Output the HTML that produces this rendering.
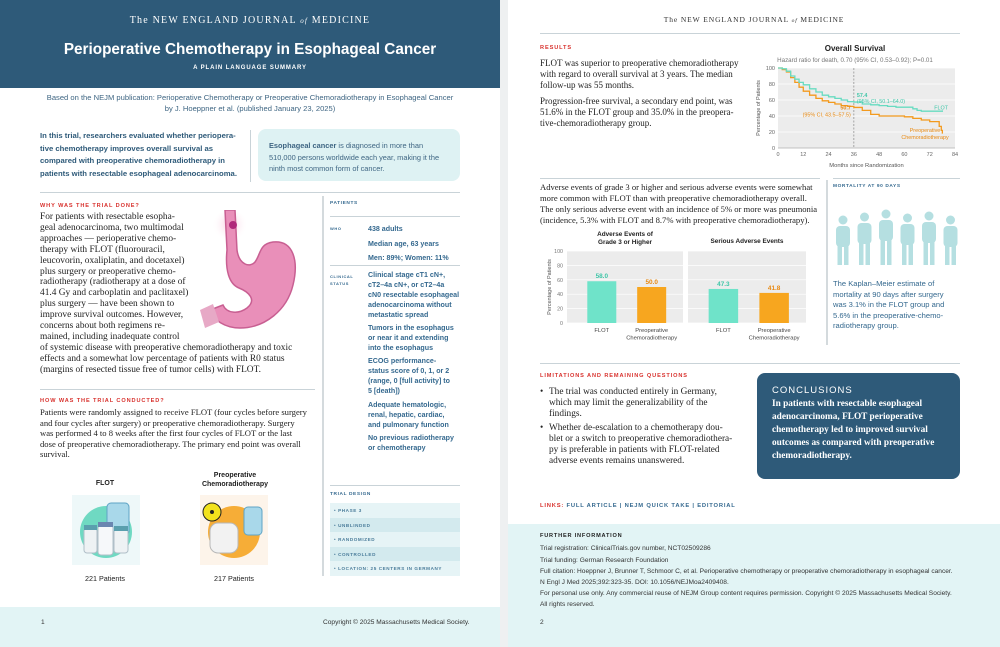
<!DOCTYPE html>
<html><head><meta charset="utf-8"><style>
*{margin:0;padding:0;box-sizing:border-box}
body{width:1000px;height:647px;position:relative;background:#eef0f1;overflow:hidden;font-family:"Liberation Sans",sans-serif}
.page{position:absolute;top:0;height:647px;background:#fff;overflow:hidden}
.a{position:absolute;white-space:nowrap}
.serif{font-family:"Liberation Serif",serif;font-size:8.6px;color:#222;line-height:10.9px}
.red{color:#d8322e;font-weight:bold;font-size:5.6px;letter-spacing:.9px}
.sb{font-weight:bold;font-size:7.1px;color:#35698f;line-height:10px}
.lab{font-size:4.8px;color:#35698f;letter-spacing:.6px;font-weight:bold}
.td{position:absolute;left:330px;width:130px;height:14.5px;font-size:4.6px;color:#4a7c9a;letter-spacing:.6px;font-weight:bold;padding:5px 0 0 4px}
.hl{position:absolute;height:1px;background:#c9d3d8}
.foot{font-size:6.6px;color:#333;line-height:10.5px}
</style></head><body>
<div class="page" style="left:0;width:500px">
 <div class="a" style="left:0;top:0;width:500px;height:88px;background:#2e5a79"></div>
 <div class="a" style="left:0;width:500px;top:15px;text-align:center;color:#fff;font-family:'Liberation Serif',serif;font-size:10px;letter-spacing:1.2px">The NEW ENGLAND JOURNAL <i style="font-size:7px">of</i> MEDICINE</div>
 <div class="a" style="left:0;width:500px;top:41px;text-align:center;color:#fff;font-size:15.3px;font-weight:bold">Perioperative Chemotherapy in Esophageal Cancer</div>
 <div class="a" style="left:0;width:500px;top:65px;text-align:center;color:#fff;font-size:6px;font-weight:bold;letter-spacing:.9px">A PLAIN LANGUAGE SUMMARY</div>
 <div class="a" style="left:0;width:500px;top:92px;text-align:center;color:#3f6683;font-size:7.6px;line-height:11px">Based on the NEJM publication: Perioperative Chemotherapy or Preoperative Chemoradiotherapy in Esophageal Cancer<br>by J. Hoeppner et al. (published January 23, 2025)</div>
 <div class="a" style="left:40px;top:130px;color:#2e5a79;font-weight:bold;font-size:7.7px;line-height:12.5px">In this trial, researchers evaluated whether periopera-<br>tive chemotherapy improves overall survival as<br>compared with preoperative chemoradiotherapy in<br>patients with resectable esophageal adenocarcinoma.</div>
 <div class="a" style="left:250px;top:130px;width:1px;height:52px;background:#c9d3d8"></div>
 <div class="a" style="left:258px;top:129px;width:202px;height:52px;background:#def2f3;border-radius:8px;padding:11px 0 0 11px;color:#3f6683;font-size:7.4px;line-height:11.5px"><b>Esophageal cancer</b> is diagnosed in more than<br>510,000 persons worldwide each year, making it the<br>ninth most common form of cancer.</div>
 <div class="hl" style="left:40px;top:192px;width:420px"></div>
 <div class="a red" style="left:40px;top:203px">WHY WAS THE TRIAL DONE?</div>
 <div class="a serif" style="left:40px;top:212px;font-size:9.4px">For patients with resectable esopha-<br>geal adenocarcinoma, two multimodal<br>approaches — perioperative chemo-<br>therapy with FLOT (fluorouracil,<br>leucovorin, oxaliplatin, and docetaxel)<br>plus surgery or preoperative chemo-<br>radiotherapy (radiotherapy at a dose of<br>41.4 Gy and carboplatin and paclitaxel)<br>plus surgery — have been shown to<br>improve survival outcomes. However,<br>concerns about both regimens re-<br>mained, including inadequate control<br>of systemic disease with preoperative chemoradiotherapy and toxic<br>effects and a somewhat low percentage of patients with R0 status<br>(margins of resected tissue free of tumor cells) with FLOT.</div>
 <svg class="a" style="left:195px;top:210px" width="120" height="135" viewBox="0 0 120 135">
  <defs><radialGradient id="g1" cx="50%" cy="40%" r="50%"><stop offset="0" stop-color="#f7a8c9" stop-opacity=".6"/><stop offset="1" stop-color="#fff" stop-opacity="0"/></radialGradient></defs>
  <circle cx="35" cy="18" r="18" fill="url(#g1)"/>
  <path d="M30 0 L40 0 L42 40 C44 55 55 58 60 52 C66 44 64 34 78 32 C98 30 104 50 98 75 C92 100 70 118 45 118 C30 118 18 110 15 100 L28 95 C32 104 44 104 52 98 C62 90 54 82 44 78 C34 74 30 60 32 40 Z" fill="#e98fb9" stroke="#c85f92" stroke-width="1.5"/>
  <path d="M5 100 L18 94 L24 112 L10 118 Z" fill="#e7a9c6"/>
  <circle cx="38" cy="15" r="4" fill="#b0287a"/>
 </svg>
 <div class="hl" style="left:40px;top:389px;width:275px"></div>
 <div class="a red" style="left:40px;top:398px">HOW WAS THE TRIAL CONDUCTED?</div>
 <div class="a serif" style="left:40px;top:407px;line-height:10.5px">Patients were randomly assigned to receive FLOT (four cycles before surgery<br>and four cycles after surgery) or preoperative chemoradiotherapy. Surgery<br>was performed 4 to 8 weeks after the first four cycles of FLOT or the last<br>dose of preoperative chemoradiotherapy. The primary end point was overall<br>survival.</div>
 <div class="a" style="left:75px;width:60px;top:480px;text-align:center;font-size:7px;font-weight:bold;color:#222">FLOT</div>
 <svg class="a" style="left:72px;top:495px" width="68" height="70">
  <rect x="0" y="0" width="68" height="70" fill="#eef8f9"/>
  <circle cx="34" cy="37" r="26" fill="#6fd9c2"/>
  <rect x="35" y="8" width="22" height="32" rx="4" fill="#a9d8ea" stroke="#5fa4c5"/>
  <rect x="12" y="33" width="13" height="25" rx="3" fill="#eef2f4" stroke="#b0bfc8"/>
  <rect x="26" y="30" width="15" height="30" rx="3" fill="#f6f8fa" stroke="#b0bfc8"/>
  <rect x="42" y="34" width="14" height="24" rx="3" fill="#eef2f4" stroke="#b0bfc8"/>
  <rect x="12" y="30" width="13" height="5" fill="#5a9fae"/><rect x="26" y="27" width="15" height="5" fill="#6b86b0"/><rect x="42" y="31" width="14" height="5" fill="#5a9fae"/>
 </svg>
 <div class="a" style="left:75px;width:60px;top:574px;text-align:center;font-size:7.2px;color:#222">221 Patients</div>
 <div class="a" style="left:195px;width:80px;top:471px;text-align:center;font-size:7px;font-weight:bold;color:#222;line-height:9px">Preoperative<br>Chemoradiotherapy</div>
 <svg class="a" style="left:200px;top:495px" width="68" height="70">
  <rect x="0" y="0" width="68" height="70" fill="#fdf4ea"/>
  <circle cx="34" cy="37" r="26" fill="#f6ad37"/>
  <rect x="10" y="28" width="28" height="30" rx="8" fill="#f2f2f2" stroke="#b8b8b8"/>
  <rect x="44" y="12" width="18" height="28" rx="4" fill="#a9d8ea" stroke="#5fa4c5"/>
  <circle cx="12" cy="17" r="9" fill="#f2e21c" stroke="#222"/>
  <circle cx="12" cy="17" r="2" fill="#222"/>
 </svg>
 <div class="a" style="left:200px;width:68px;top:574px;text-align:center;font-size:7.2px;color:#222">217 Patients</div>
 <div class="a" style="left:322px;top:196px;width:1.5px;height:380px;background:#d4dadd"></div>
 <div class="a lab" style="left:330px;top:201px;color:#35698f">PATIENTS</div>
 <div class="hl" style="left:330px;top:216px;width:130px"></div>
 <div class="a lab" style="left:330px;top:226px;font-size:4px">WHO</div>
 <div class="a sb" style="left:368px;top:222px;line-height:14.5px">438 adults<br>Median age, 63 years<br>Men: 89%; Women: 11%</div>
 <div class="hl" style="left:330px;top:265px;width:130px"></div>
 <div class="a lab" style="left:330px;top:273px;font-size:4px;line-height:7px">CLINICAL<br>STATUS</div>
 <div class="a sb" style="left:368px;top:270px">Clinical stage cT1 cN+,<br>cT2–4a cN+, or cT2–4a<br>cN0 resectable esophageal<br>adenocarcinoma without<br>metastatic spread</div>
 <div class="a sb" style="left:368px;top:323px">Tumors in the esophagus<br>or near it and extending<br>into the esophagus</div>
 <div class="a sb" style="left:368px;top:356px">ECOG performance-<br>status score of 0, 1, or 2<br>(range, 0 [full activity] to<br>5 [death])</div>
 <div class="a sb" style="left:368px;top:400px">Adequate hematologic,<br>renal, hepatic, cardiac,<br>and pulmonary function</div>
 <div class="a sb" style="left:368px;top:433px">No previous radiotherapy<br>or chemotherapy</div>
 <div class="hl" style="left:330px;top:485px;width:130px"></div>
 <div class="a lab" style="left:330px;top:492px">TRIAL DESIGN</div>
 <div class="td" style="top:503px;background:#e6f4f6">• PHASE 3</div>
 <div class="td" style="top:517.5px;background:#d3eaee">• UNBLINDED</div>
 <div class="td" style="top:532px;background:#e6f4f6">• RANDOMIZED</div>
 <div class="td" style="top:546.5px;background:#d3eaee">• CONTROLLED</div>
 <div class="td" style="top:561px;background:#e6f4f6">• LOCATION: 25 CENTERS IN GERMANY</div>
 <div class="a" style="left:0;top:607px;width:500px;height:40px;background:#e2f4f5"></div>
 <div class="a foot" style="left:41px;top:618px">1</div>
 <div class="a foot" style="left:323px;top:618px">Copyright © 2025 Massachusetts Medical Society.</div>
</div>

<div class="page" style="left:508px;width:492px">
 <div class="a" style="left:0;width:492px;top:15px;text-align:center;color:#333;font-family:'Liberation Serif',serif;font-size:7.5px;letter-spacing:.9px">The NEW ENGLAND JOURNAL <i style="font-size:5.5px">of</i> MEDICINE</div>
 <div class="hl" style="left:32px;top:33px;width:420px"></div>
 <div class="a red" style="left:32px;top:45px">RESULTS</div>
 <div class="a serif" style="left:32px;top:58px;font-size:9px">FLOT was superior to preoperative chemoradiotherapy<br>with regard to overall survival at 3 years. The median<br>follow-up was 55 months.</div>
 <div class="a serif" style="left:32px;top:96px;font-size:9px">Progression-free survival, a secondary end point, was<br>51.6% in the FLOT group and 35.0% in the preopera-<br>tive-chemoradiotherapy group.</div>
 <div class="hl" style="left:32px;top:178px;width:280px"></div>
 <div class="a serif" style="left:32px;top:182px">Adverse events of grade 3 or higher and serious adverse events were somewhat<br>more common with FLOT than with preoperative chemoradiotherapy overall.<br>The only serious adverse event with an incidence of 5% or more was pneumonia<br>(incidence, 5.3% with FLOT and 8.7% with preoperative chemoradiotherapy).</div>
 <div class="a" style="left:318px;top:180px;width:1.5px;height:165px;background:#d4dadd"></div>
 <div class="hl" style="left:325px;top:178px;width:127px"></div>
 <div class="a lab" style="left:325px;top:184px">MORTALITY AT 90 DAYS</div>
 <svg class="a" style="left:325px;top:207px" width="127" height="60" id="people"></svg>
 <div class="a" style="left:325px;top:279px;font-size:7.6px;line-height:10.5px;color:#35698f">The Kaplan–Meier estimate of<br>mortality at 90 days after surgery<br>was 3.1% in the FLOT group and<br>5.6% in the preoperative-chemo-<br>radiotherapy group.</div>
 <div class="hl" style="left:32px;top:363px;width:420px"></div>
 <div class="a red" style="left:32px;top:373px">LIMITATIONS AND REMAINING QUESTIONS</div>
 <div class="a serif" style="left:32px;top:387px;font-size:9.3px"><span style="position:absolute;left:0">•</span><div style="margin-left:9px">The trial was conducted entirely in Germany,<br>which may limit the generalizability of the<br>findings.</div></div>
 <div class="a serif" style="left:32px;top:423px;font-size:9.3px"><span style="position:absolute;left:0">•</span><div style="margin-left:9px">Whether de-escalation to a chemotherapy dou-<br>blet or a switch to preoperative chemoradiothera-<br>py is preferable in patients with FLOT-related<br>adverse events remains unanswered.</div></div>
 <div class="a" style="left:249px;top:373px;width:203px;height:106px;background:#2e5a79;border-radius:8px;padding:12px 0 0 15px;color:#fff">
  <div style="font-size:9.5px;letter-spacing:1px;margin-bottom:2px">CONCLUSIONS</div>
  <div style="font-family:'Liberation Serif',serif;font-weight:bold;font-size:9.3px;line-height:13px">In patients with resectable esophageal<br>adenocarcinoma, FLOT perioperative<br>chemotherapy led to improved survival<br>outcomes as compared with preoperative<br>chemoradiotherapy.</div>
 </div>
 <div class="a" style="left:32px;top:503px;font-size:5.8px;font-weight:bold;letter-spacing:.8px;color:#35698f"><span style="color:#d8322e">LINKS:</span> <span>FULL ARTICLE</span> | <span>NEJM QUICK TAKE</span> | <span>EDITORIAL</span></div>
 <div class="a" style="left:0;top:524px;width:492px;height:123px;background:#e2f4f5"></div>
 <div class="a" style="left:32px;top:533px;font-size:5.6px;font-weight:bold;letter-spacing:.8px;color:#222">FURTHER INFORMATION</div>
 <div class="a foot" style="left:32px;top:544px">Trial registration: ClinicalTrials.gov number, NCT02509286<br><span style="display:block;height:1px"></span>Trial funding: German Research Foundation<br><span style="display:block;height:1px"></span>Full citation: Hoeppner J, Brunner T, Schmoor C, et al. Perioperative chemotherapy or preoperative chemoradiotherapy in esophageal cancer.<br>N Engl J Med 2025;392:323-35. DOI: 10.1056/NEJMoa2409408.<br><span style="display:block;height:1px"></span>For personal use only. Any commercial reuse of NEJM Group content requires permission. Copyright © 2025 Massachusetts Medical Society.<br>All rights reserved.</div>
 <div class="a foot" style="left:32px;top:618px">2</div>
</div>

<svg class="a" id="os" style="left:745px;top:40px" width="220" height="135"></svg>
<svg class="a" id="ae" style="left:515px;top:225px" width="300" height="125"></svg>

<script>
// ---- Overall survival data ----
const osMonths = [0,2,4,6,8,10,12,15,18,21,24,27,30,33,36,40,44,48,52,56,60,64,66,68,72,76,78];
const flotSurv = [100,99,96,90,86,82,79,74,70,66,64,62,60,58,57.4,55,54,53,52,51,51,49,47,46,46,46,47];
const crtMonths = [0,2,4,6,8,10,12,15,18,21,24,27,30,33,36,40,44,48,52,56,60,64,68,72,76,76.5,77.5,78];
const crtSurv = [100,98,95,88,82,76,71,66,62,59,57,55,53,52,50.7,47,42,40,40,40,39,37,35,33,33,27,22,18];
const osXTicks = [0,12,24,36,48,60,72,84];
const osYTicks = [0,20,40,60,80,100];
// ---- Adverse events data ----
const aeCategories = ["FLOT","Preoperative Chemoradiotherapy"];
const aeGrade3 = [58.0,50.0];
const aeSerious = [47.3,41.8];
const aeYTicks = [0,20,40,60,80,100];

const NS='http://www.w3.org/2000/svg';
function mk(p,t,a,txt){const e=document.createElementNS(NS,t);for(const k in a)e.setAttribute(k,a[k]);if(txt!==undefined)e.textContent=txt;p.appendChild(e);return e;}
const F='Liberation Sans, sans-serif';
(function(){
 const s=document.getElementById('os');
 const x0=33,x1=210,y0=108,y1=28;
 const X=m=>x0+(m/84)*(x1-x0), Y=v=>y0-(v/100)*(y0-y1);
 let t=mk(s,'text',{x:110,y:11,'text-anchor':'middle','font-size':'8px','font-weight':'bold','font-family':F,fill:'#222'},'Overall Survival');
 
 t=mk(s,'text',{x:110,y:22,'text-anchor':'middle','font-size':'6.2px','font-family':F,fill:'#777'},'Hazard ratio for death, 0.70 (95% CI, 0.53–0.92); P=0.01');
 
 let r=mk(s,'rect',{x:x0,y:y1,width:x1-x0,height:y0-y1,fill:'#ececec'});
 
 osYTicks.forEach(v=>{
  let g=mk(s,'line',{x1:x0,x2:x1,y1:Y(v),y2:Y(v),stroke:'#fff','stroke-width':.8});
  
  let l=mk(s,'text',{x:x0-3,y:Y(v)+2,'text-anchor':'end','font-size':'5.5px','font-family':F,fill:'#666'},v);
  
 });
 osXTicks.forEach(m=>{
  let l=mk(s,'text',{x:X(m),y:y0+8,'text-anchor':'middle','font-size':'5.5px','font-family':F,fill:'#666'},m);
  
 });
 let ax=mk(s,'line',{x1:x0,x2:x1,y1:y0,y2:y0,stroke:'#888','stroke-width':.6});
 
 let d=mk(s,'line',{x1:X(36),x2:X(36),y1:y1,y2:y0,stroke:'#888','stroke-width':.7,'stroke-dasharray':'2,1.5'});
 
 function step(ms,vs){let p='M'+X(ms[0])+','+Y(vs[0]);for(let i=1;i<ms.length;i++){p+=' L'+X(ms[i])+','+Y(vs[i-1])+' L'+X(ms[i])+','+Y(vs[i]);}return p;}
 let c=mk(s,'path',{d:step(crtMonths,crtSurv),fill:'none',stroke:'#f39a1e','stroke-width':1.3});
 
 c=mk(s,'path',{d:step(osMonths,flotSurv),fill:'none',stroke:'#67dbc1','stroke-width':1.3});
 
 const txt=(x,y,a,col,str,n,w)=>{let e=mk(s,'text',{x:x,y:y,'text-anchor':a,'font-size':'5.4px','font-family':F,fill:col,'font-weight':w||'normal'},str);};
 txt(X(36)+3,Y(flotSurv[14])-5,'start','#3fc6a8','57.4','flot-36mo-value','bold');
 txt(X(36)+3,Y(flotSurv[14])+1,'start','#3fc6a8','(95% CI, 50.1–64.0)','flot-36mo-ci');
 txt(X(36)-3,Y(crtSurv[14])+2,'end','#e98a12','50.7','crt-36mo-value','bold');
 txt(X(36)-3,Y(crtSurv[14])+9,'end','#e98a12','(95% CI, 43.5–57.5)','crt-36mo-ci');
 txt(203,Y(47)-1,'end','#3fc6a8','FLOT','flot-label');
 txt(180,Y(20),'middle','#e98a12','Preoperative','crt-label');
 txt(180,Y(20)+7,'middle','#e98a12','Chemoradiotherapy','crt-label-2');
 let at=mk(s,'text',{x:(x0+x1)/2,y:y0+19,'text-anchor':'middle','font-size':'5.8px','font-family':F,fill:'#555'},'Months since Randomization');
 
 let yt=mk(s,'text',{x:0,y:0,transform:'translate(15,'+((y0+y1)/2)+') rotate(-90)','text-anchor':'middle','font-size':'5.5px','font-family':F,fill:'#555'},'Percentage of Patients');
 
})();
(function(){
 const s=document.getElementById('ae');
 const yb=98,yt=26,Y=v=>yb-(v/100)*(yb-yt);
 const panels=[{x:52,w:116,vals:aeGrade3,title:['Adverse Events of','Grade 3 or Higher'],n:'grade3'},{x:173,w:118,vals:aeSerious,title:['Serious Adverse Events'],n:'serious'}];
 let yl=mk(s,'text',{x:0,y:0,transform:'translate(36,'+((yb+yt)/2)+') rotate(-90)','text-anchor':'middle','font-size':'5.5px','font-family':F,fill:'#555'},'Percentage of Patients');
 
 aeYTicks.forEach(v=>{let l=mk(s,'text',{x:48,y:Y(v)+2,'text-anchor':'end','font-size':'5.3px','font-family':F,fill:'#777'},v);
  });
 const cols=['#6fe3c9','#f7a61f'],tcols=['#3fc6a8','#e98a12'];
 panels.forEach(p=>{
  let bg=mk(s,'rect',{x:p.x,y:yt,width:p.w,height:yb-yt,fill:'#ececec'});
  
  aeYTicks.forEach(v=>{let g=mk(s,'line',{x1:p.x,x2:p.x+p.w,y1:Y(v),y2:Y(v),stroke:'#fff','stroke-width':.7});
   });
  p.title.forEach((tt,i)=>{let e=mk(s,'text',{x:p.x+p.w/2,y:(p.title.length>1?11:18)+i*8,'text-anchor':'middle','font-size':'6.4px','font-weight':'bold','font-family':F,fill:'#222'},tt);
   });
  const bw=p.w*0.25;
  p.vals.forEach((v,i)=>{
   const cx=p.x+p.w*(i===0?0.3:0.73);
   let b=mk(s,'rect',{x:cx-bw/2,y:Y(v),width:bw,height:yb-Y(v),fill:cols[i]});
   
   let l=mk(s,'text',{x:cx,y:Y(v)-3,'text-anchor':'middle','font-size':'6.4px','font-weight':'bold','font-family':F,fill:tcols[i]},v.toFixed(1));
   
   const words=aeCategories[i].split(' ');
   words.forEach((wd,j)=>{let c=mk(s,'text',{x:cx,y:yb+9+j*7.5,'text-anchor':'middle','font-size':'5.8px','font-family':F,fill:'#444'},wd);
    });
  });
 });
})();
(function(){
 const s=document.getElementById('people');
 for(let i=0;i<6;i++){
  const cx=10+i*21.5, h=[50,53,56,52,54,50][i], top=58-h;
  const g=mk(s,'g',{fill:'#b5dfe1'});
  
  mk(g,'circle',{cx:cx,cy:top+5,r:4.5});
  mk(g,'rect',{x:cx-7,y:top+11,width:14,height:21,rx:4});
  mk(g,'rect',{x:cx-5.5,y:top+28,width:4.5,height:h-28});
  mk(g,'rect',{x:cx+1,y:top+28,width:4.5,height:h-28});
 }
})();
</script>
</body></html>
